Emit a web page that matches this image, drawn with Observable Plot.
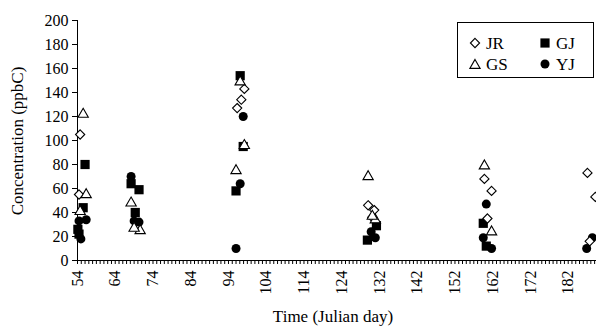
<!DOCTYPE html>
<html><head><meta charset="utf-8">
<script src="https://cdn.jsdelivr.net/npm/d3@7"></script>
<script src="https://cdn.jsdelivr.net/npm/@observablehq/plot@0.6"></script>
<style>
html,body{margin:0;padding:0;background:#fff;overflow:hidden;}
#wrap{position:relative;width:596px;height:332px;font-family:"Liberation Serif","Times New Roman",serif;color:#000;}
.title{position:absolute;font-family:"Liberation Serif",serif;font-size:17px;white-space:nowrap;line-height:1;}
#ytitle{left:17px;top:141px;transform:translate(-50%,-50%) rotate(-90deg);}
#xtitle{left:333px;top:316px;transform:translate(-50%,-50%);}
#legend{position:absolute;left:457px;top:22px;width:137px;height:56px;border:1px solid #000;box-sizing:border-box;background:#fff;}
.item{position:absolute;height:18px;display:flex;align-items:center;font-family:"Liberation Serif",serif;font-size:17px;line-height:1;}
.item svg{flex:none;}
.item span{margin-left:4px;}
</style></head><body>
<div id="wrap"><div id="chart"></div>
<div id="ytitle" class="title">Concentration (ppbC)</div>
<div id="xtitle" class="title">Time (Julian day)</div>
<div id="legend"></div></div>
<script>
// ---- data (Julian day, concentration in ppbC) ----
const seriesNames = ["JR", "GS", "GJ", "YJ"];

const jrDays   = [54.7, 54.4, 98.2, 97.4, 96.3, 129.0, 130.6, 130.1, 159.8, 161.7, 160.6, 187.1, 189.2, 187.7];
const jrValues = [105, 55, 143, 134, 127, 46, 42, 36, 68, 58, 35, 73, 53, 16];

const gsDays   = [55.5, 56.3, 54.7, 68.2, 70.6, 69.0, 97.1, 98.2, 96.0, 129.0, 130.9, 130.1, 159.8, 161.7];
const gsValues = [123, 56, 42, 49, 26, 28, 150, 97, 76, 71, 35, 38, 80, 25];

const gjDays   = [56.0, 55.5, 54.1, 54.4, 68.2, 70.3, 69.3, 97.1, 97.9, 96.0, 131.2, 128.8, 159.5, 160.3];
const gjValues = [80, 44, 26, 22, 64, 59, 40, 154, 95, 58, 29, 17, 31, 12];

const yjDays   = [54.4, 56.3, 54.9, 68.2, 69.0, 70.3, 97.9, 97.1, 96.0, 129.8, 130.9, 160.3, 159.5, 161.7, 186.9, 188.4];
const yjValues = [33, 34, 18, 70, 33, 32, 120, 64, 10, 24, 19, 47, 19, 10, 10, 19];

const xTickDays   = [54, 64, 74, 84, 94, 104, 114, 124, 132, 142, 152, 162, 172, 182];
const xTickLabels = ["54", "64", "74", "84", "94", "104", "114", "124", "132", "142", "152", "162", "172", "182"];
const yTicks = [0, 20, 40, 60, 80, 100, 120, 140, 160, 180, 200];

// ---- category-style axis: after day 124 the axis skips two slots ----
const pos = d => d > 124 ? d + 2 : d;
const labelAt = new Map(xTickDays.map((d, i) => [pos(d), xTickLabels[i]]));
const minorTicks = d3.range(54, 192, 1);

const rows = (days, values, s) => days.map((d, i) => ({series: s, day: d, value: values[i]}));
const jr = rows(jrDays, jrValues, "JR");
const gs = rows(gsDays, gsValues, "GS");
const gj = rows(gjDays, gjValues, "GJ");
const yj = rows(yjDays, yjValues, "YJ");

// ---- marker symbols ----
const R = size => Math.sqrt(size / Math.PI);
const diamondSym = {draw(c, size) { const h = R(size) * 1.0; c.moveTo(0, -h); c.lineTo(h, 0); c.lineTo(0, h); c.lineTo(-h, 0); c.closePath(); }};
const triangleSym = {draw(c, size) { const r = R(size); c.moveTo(0, -r * 1.0); c.lineTo(r * 1.12, r * 0.95); c.lineTo(-r * 1.12, r * 0.95); c.closePath(); }};
const squareSym = {draw(c, size) { const r = R(size); c.rect(-r, -r, 2 * r, 2 * r); }};
const circleSym = {draw(c, size) { const r = R(size); c.moveTo(r, 0); c.arc(0, 0, r, 0, 2 * Math.PI); }};

const symbolOf = {JR: diamondSym, GS: triangleSym, GJ: squareSym, YJ: circleSym};
const sizeOf = {JR: 4.6, GS: 4.6, GJ: 4.6, YJ: 4.5};
const hollow = {JR: true, GS: true, GJ: false, YJ: false};

const dotMark = (data, s) => Plot.dot(data, {
  x: d => pos(d.day), y: "value", symbol: symbolOf[s], r: sizeOf[s],
  fill: hollow[s] ? "white" : "black", stroke: hollow[s] ? "black" : "none", strokeWidth: 1.1
});

const chart = Plot.plot({
  width: 596, height: 332,
  marginLeft: 77, marginRight: 0, marginTop: 20, marginBottom: 72,
  style: {background: "white", overflow: "visible", fontFamily: "Liberation Serif, serif", fontSize: "16px", color: "black"},
  x: {domain: [54, 191.5], ticks: minorTicks, tickFormat: p => labelAt.get(p) ?? "", tickRotate: -90, tickSize: 4, tickPadding: 6, label: null},
  y: {domain: [0, 200], ticks: yTicks, tickSize: 5, tickPadding: 4, label: null},
  marks: [
    Plot.ruleY([0], {stroke: "black"}),
    Plot.ruleX([54], {stroke: "black"}),
    dotMark(gj, "GJ"),
    dotMark(yj, "YJ"),
    dotMark(jr, "JR"),
    dotMark(gs, "GS")
  ]
});
chart.querySelectorAll("text").forEach(t => {
  t.style.fontFamily = "'Liberation Serif', serif";
  t.style.fontSize = "16px";
  t.style.fill = "black";
});
document.getElementById("chart").appendChild(chart);

// ---- legend ----
const legend = document.getElementById("legend");
const legendOrder = ["JR", "GJ", "GS", "YJ"];
const colX = [10, 80], rowY = [11, 32];
legendOrder.forEach((s, i) => {
  const item = document.createElement("div");
  item.className = "item";
  item.style.left = colX[i % 2] + "px";
  item.style.top = rowY[Math.floor(i / 2)] + "px";
  const size = Math.PI * sizeOf[s] * sizeOf[s];
  const p = d3.path(); symbolOf[s].draw(p, size);
  item.innerHTML = `<svg width="14" height="14" viewBox="-7 -7 14 14"><path d="${p}" fill="${hollow[s] ? "white" : "black"}" stroke="${hollow[s] ? "black" : "none"}" stroke-width="1.1"/></svg><span>${s}</span>`;
  legend.appendChild(item);
});
</script></body></html>
